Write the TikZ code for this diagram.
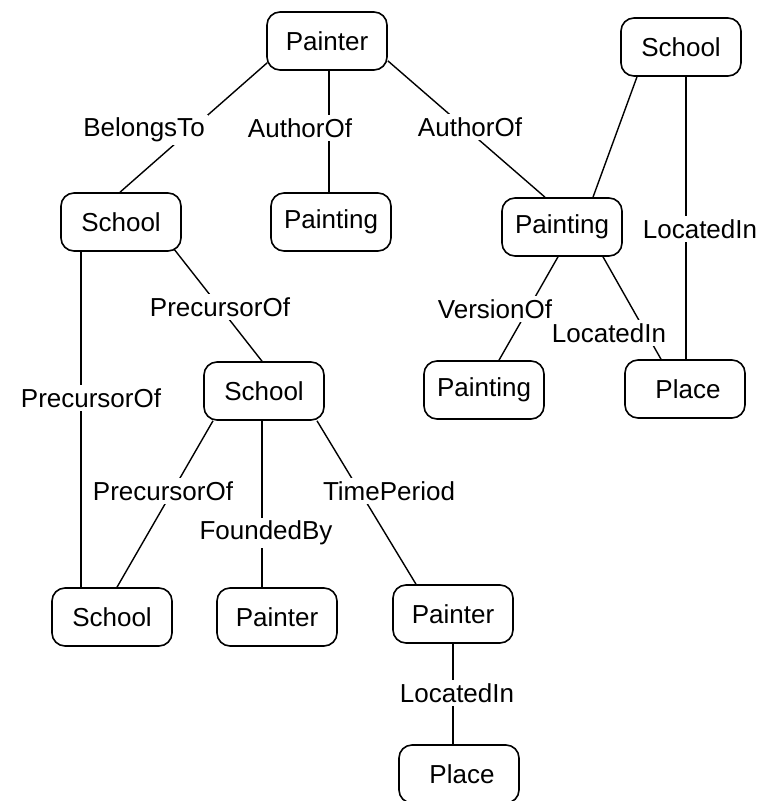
\documentclass[tikz,border=0pt]{standalone}
\usepackage{fontspec}
\setmainfont{Liberation Sans}
\begin{document}
\begin{tikzpicture}[x=1pt,y=-1pt,
  entity/.style={draw=black, line width=1.6pt, rounded corners=13pt, fill=white,
    minimum width=120pt, minimum height=58pt, inner sep=0pt,
    font=\fontsize{26}{30}\selectfont},
  relation/.style={fill=white, inner sep=3pt, font=\fontsize{26}{30}\selectfont},
  link/.style={line width=1.4pt, black}]
\useasboundingbox (0,0) rectangle (778,801);
\fill[white] (0,0) rectangle (778,801);

% entities
\node[entity] (p0) at (327,41)  {Painter};
\node[entity] (g1) at (331,222) {Painting};
\node[entity] (s1) at (121,222) {School};
\node[entity] (g2) at (562,227) {Painting};
\node[entity] (s2) at (681,47)  {School};
\node[entity] (g3) at (484,390) {Painting};
\node[entity] (l1) at (685,389) {\hspace{6pt}Place};
\node[entity] (s3) at (264,391) {School};
\node[entity] (s4) at (112,617) {School};
\node[entity] (p1) at (277,617) {Painter};
\node[entity] (p2) at (453,614) {Painter};
\node[entity] (l2) at (459,774) {\hspace{6pt}Place};

% relations
\draw[link] ([xshift=1pt,yshift=8pt]p0.south west) -- ([xshift=-1pt]s1.north);
\draw[link] ([xshift=2pt]p0.south) -- ([xshift=-2pt]g1.north);
\draw[link] ([yshift=10pt]p0.south east) -- ([xshift=-17pt]g2.north);
\draw[link] ([xshift=-44pt]s2.south) -- ([xshift=31pt]g2.north);
\draw[link] ([xshift=5pt]s2.south) -- ([xshift=1pt]l1.north);
\draw[link] ([xshift=-4pt]g2.south) -- ([xshift=15pt]g3.north);
\draw[link] ([xshift=41pt]g2.south) -- ([xshift=-24pt]l1.north);
\draw[link] ([xshift=-40pt]s1.south) -- ([xshift=-31pt]s4.north);
\draw[link] ([xshift=-8pt,yshift=3pt]s1.south east) -- ([xshift=-2pt]s3.north);
\draw[link] ([xshift=-51pt]s3.south) -- ([xshift=5pt]s4.north);
\draw[link] ([xshift=-2pt]s3.south) -- ([xshift=-15pt]p1.north);
\draw[link] ([xshift=53pt]s3.south) -- ([xshift=-37pt]p2.north);
\draw[link] (p2.south) -- ([xshift=-6pt]l2.north);

% relation labels
\node[relation] (r1)  at (144,130) {BelongsTo};
\node[relation] (r2)  at (300,128) {AuthorOf};
\node[relation] (r3)  at (470,127) {AuthorOf};
\node[relation] (r4)  at (700,229) {LocatedIn};
\node[relation] (r5)  at (495,309) {VersionOf};
\node[relation] (r6)  at (609,333) {LocatedIn};
\node[relation] (r7)  at (91,398)  {PrecursorOf};
\node[relation] (r8)  at (220,307) {PrecursorOf};
\node[relation] (r9)  at (163,491) {PrecursorOf};
\node[relation] (r10) at (266,533) {FoundedBy};
\node[relation] (r11) at (389,491) {TimePeriod};
\node[relation] (r12) at (457,693) {LocatedIn};
\end{tikzpicture}
\end{document}
